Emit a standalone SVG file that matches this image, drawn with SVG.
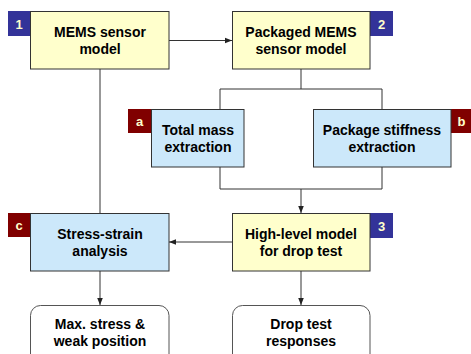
<svg xmlns="http://www.w3.org/2000/svg" width="471" height="354" viewBox="0 0 471 354">
<defs>
<style>
.t{font-family:"Liberation Sans",Arial,sans-serif;font-weight:bold;font-size:14px;fill:#000;text-anchor:middle}
.bt{font-family:"Liberation Sans",Arial,sans-serif;font-weight:bold;font-size:13px;fill:#FFFFCC;text-anchor:middle}
.y{fill:#FFFFCC;stroke:#333;stroke-width:1}
.b{fill:#CCE8FA;stroke:#333;stroke-width:1}
.w{fill:#FFFFFF;stroke:#555;stroke-width:1}
.nb{fill:#333399}
.nr{fill:#800000}
.c{fill:none;stroke:#333;stroke-width:1}
</style>
<marker id="ah" viewBox="0 0 10 10" refX="10" refY="5" markerWidth="7" markerHeight="7" markerUnits="userSpaceOnUse" orient="auto">
<path d="M0,1 L10,5 L0,9 Z" fill="#222"/>
</marker>
</defs>
<rect width="471" height="354" fill="#fff"/>
<g id="connectors">
<path class="c" d="M169,40.5 H232" marker-end="url(#ah)"/>
<path class="c" d="M100,69 V213"/>
<path class="c" d="M301,69 V89"/>
<path class="c" d="M220,109 V89 H382 V109"/>
<path class="c" d="M220,167 V189 H382 V167"/>
<path class="c" d="M301,189 V213" marker-end="url(#ah)"/>
<path class="c" d="M232,242 H169" marker-end="url(#ah)"/>
<path class="c" d="M100,271 V305" marker-end="url(#ah)"/>
<path class="c" d="M301,271 V305" marker-end="url(#ah)"/>
</g>
<g id="node1">
<rect class="nb" x="8" y="11" width="22" height="25"/>
<text class="bt" x="19" y="28.5">1</text>
<rect class="y" x="30.5" y="11.5" width="138.5" height="57.5"/>
<text class="t" x="100" y="37">MEMS sensor</text>
<text class="t" x="100" y="54">model</text>
</g>
<g id="node2">
<rect class="nb" x="370" y="11" width="23" height="25"/>
<text class="bt" x="381.5" y="28.5">2</text>
<rect class="y" x="232.5" y="11.5" width="137.5" height="57.5"/>
<text class="t" x="301" y="37">Packaged MEMS</text>
<text class="t" x="301" y="54">sensor model</text>
</g>
<g id="nodeA">
<rect class="nr" x="128" y="109" width="23" height="24"/>
<text class="bt" x="139.5" y="126">a</text>
<rect class="b" x="151.5" y="109.5" width="92.5" height="57.5"/>
<text class="t" x="198" y="135">Total mass</text>
<text class="t" x="198" y="152">extraction</text>
</g>
<g id="nodeB">
<rect class="nr" x="451" y="109" width="22" height="24"/>
<text class="bt" x="461.5" y="126">b</text>
<rect class="b" x="313.5" y="109.5" width="137.5" height="57.5"/>
<text class="t" x="382" y="135">Package stiffness</text>
<text class="t" x="382" y="152">extraction</text>
</g>
<g id="nodeC">
<rect class="nr" x="8" y="213" width="22" height="24"/>
<text class="bt" x="19" y="230">c</text>
<rect class="b" x="30.5" y="213.5" width="138.5" height="57.5"/>
<text class="t" x="100" y="239">Stress-strain</text>
<text class="t" x="100" y="256">analysis</text>
</g>
<g id="node3">
<rect class="nb" x="370" y="213" width="23" height="25"/>
<text class="bt" x="381.5" y="230.5">3</text>
<rect class="y" x="232.5" y="213.5" width="137.5" height="57.5"/>
<text class="t" x="301" y="239">High-level model</text>
<text class="t" x="301" y="256">for drop test</text>
</g>
<g id="nodeMax">
<rect class="w" x="30.5" y="305.5" width="138.5" height="60" rx="10" ry="10"/>
<text class="t" x="100" y="329">Max. stress &amp;</text>
<text class="t" x="100" y="346">weak position</text>
</g>
<g id="nodeDrop">
<rect class="w" x="232.5" y="305.5" width="137.5" height="60" rx="10" ry="10"/>
<text class="t" x="301" y="329">Drop test</text>
<text class="t" x="301" y="346">responses</text>
</g>
</svg>
